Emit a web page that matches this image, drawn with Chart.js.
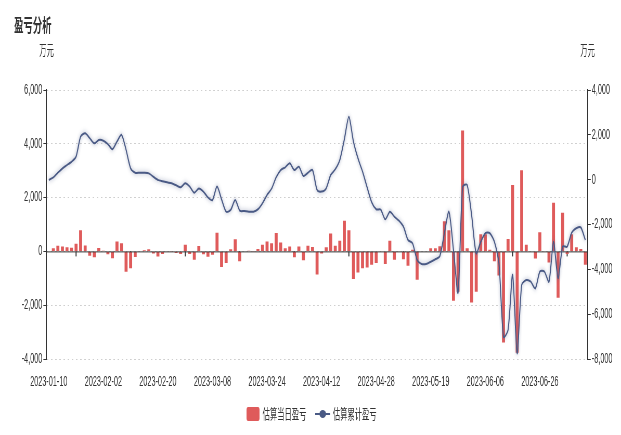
<!DOCTYPE html>
<html>
<head>
<meta charset="utf-8">
<script src="https://cdn.jsdelivr.net/npm/chart.js@4.4.0/dist/chart.umd.min.js"></script>
<style>
  html, body { margin: 0; padding: 0; background: #fff; overflow: hidden; }
</style>
</head>
<body>
<!-- drawn wide, shown squeezed like the source picture -->
<canvas id="chart" width="1194" height="435" style="display:block;width:621px;height:435px"></canvas>
<script>
// trading days
const dates = [
  '2023-01-10','2023-01-11','2023-01-12','2023-01-13','2023-01-16','2023-01-17','2023-01-18','2023-01-19','2023-01-20',
  '2023-01-30','2023-01-31','2023-02-01','2023-02-02','2023-02-03','2023-02-06','2023-02-07','2023-02-08','2023-02-09',
  '2023-02-10','2023-02-13','2023-02-14','2023-02-15','2023-02-16','2023-02-17','2023-02-20','2023-02-21','2023-02-22',
  '2023-02-23','2023-02-24','2023-02-27','2023-02-28','2023-03-01','2023-03-02','2023-03-03','2023-03-06','2023-03-07',
  '2023-03-08','2023-03-09','2023-03-10','2023-03-13','2023-03-14','2023-03-15','2023-03-16','2023-03-17','2023-03-20',
  '2023-03-21','2023-03-22','2023-03-23','2023-03-24','2023-03-27','2023-03-28','2023-03-29','2023-03-30','2023-03-31',
  '2023-04-03','2023-04-04','2023-04-06','2023-04-07','2023-04-10','2023-04-11','2023-04-12','2023-04-13','2023-04-14',
  '2023-04-17','2023-04-18','2023-04-19','2023-04-20','2023-04-21','2023-04-24','2023-04-25','2023-04-26','2023-04-27',
  '2023-04-28','2023-05-04','2023-05-05','2023-05-08','2023-05-09','2023-05-10','2023-05-11','2023-05-12','2023-05-15',
  '2023-05-16','2023-05-17','2023-05-18','2023-05-19','2023-05-22','2023-05-23','2023-05-24','2023-05-25','2023-05-26',
  '2023-05-29','2023-05-30','2023-05-31','2023-06-01','2023-06-02','2023-06-05','2023-06-06','2023-06-07','2023-06-08',
  '2023-06-09','2023-06-12','2023-06-13','2023-06-14','2023-06-15','2023-06-16','2023-06-19','2023-06-20','2023-06-21',
  '2023-06-26','2023-06-27','2023-06-28','2023-06-29','2023-06-30','2023-07-03','2023-07-04','2023-07-05','2023-07-06',
  '2023-07-07','2023-07-10'
];

// 估算当日盈亏 (万元, left axis)
const dailyPnl = [
  0, 120, 210, 185, 150, 140, 280, 790, 220, -160,
  -220, 130, 20, -110, -255, 365, 305, -760, -625, -205,
  0, 40, 80, -80, -185, -100, -20, -10, -60, -100,
  250, -100, -310, 200, -110, -200, -120, 690, -580, -430,
  80, 450, -370, 0, 20, -10, 90, 250, 370, 300,
  680, 330, 120, 180, -220, 180, -330, 210, 160, -860,
  -75, 150, 670, 210, 400, 1140, 790, -1030, -780, -630,
  -600, -500, -430, 0, -470, 400, -310, 0, -290, -530,
  60, -1050, 0, 0, 120, 120, 190, 1120, 790, -1830,
  -1500, 4490, 120, -1900, -1500, 640, 640, 60, -370, -900,
  -3390, 460, 2470, -3770, 3020, 250, 0, -260, 710, 0,
  -410, 1810, -1720, 1440, -100, 640, 150, 90, -500
];

// 估算累计盈亏 (万元, right axis)
const totalPnl = [
  -10, 100, 310, 500, 650, 800, 1030, 1920, 2070, 1850,
  1620, 1770, 1740, 1590, 1360, 1700, 2000, 1330, 500, 310,
  310, 310, 280, 130, -10, -70, -120, -160, -250, -340,
  -160, -310, -580, -390, -530, -790, -910, -310, -880, -1430,
  -1350, -910, -1380, -1400, -1430, -1430, -1320, -1050, -680, -400,
  100, 430, 550, 730, 430, 580, 165, 310, 430, -460,
  -530, -390, 210, 460, 880, 1800, 2810, 1700, 950, 360,
  -340, -1000, -1320, -1340, -1770, -1430, -1650, -1830, -2100, -2690,
  -2840, -3580, -3760, -3760, -3660, -3550, -3410, -2390, -1430, -3140,
  -5040, -340, -240, -1600, -3290, -2770, -2390, -2390, -2770, -3730,
  -7010, -6710, -4250, -7750, -4700, -4480, -4550, -4850, -4100, -4100,
  -4550, -2770, -4400, -2990, -2990, -2370, -2170, -2130, -2690
];

const seriesNames = ['估算当日盈亏', '估算累计盈亏'];

const FONT = "'Liberation Sans', 'Noto Sans CJK SC', sans-serif";
const barColor = '#df5b5b';
const lineColor = '#4a5a85';
const axisColor = '#333';
const textColor = '#333';

// zero line, small x ticks, line glow, title, units and legend
const decor = {
  id: 'decor',
  beforeDatasetDraw(chart, args) {
    const ctx = chart.ctx;
    if (args.index === 1) {
      const xs = chart.scales.x;
      const y0 = chart.scales.y.getPixelForValue(0);
      ctx.save();
      ctx.strokeStyle = axisColor;
      ctx.lineWidth = 2;
      for (let i = 6; i < dates.length; i += 12) {
        const px = xs.getPixelForValue(i);
        ctx.beginPath();
        ctx.moveTo(px, y0);
        ctx.lineTo(px, y0 + 5);
        ctx.stroke();
      }
      ctx.restore();
    }
    if (args.index === 0) {
      ctx.save();
      ctx.shadowColor = 'rgba(74, 90, 133, 0.55)';
      ctx.shadowBlur = 5;
    }
  },
  afterDatasetDraw(chart, args) {
    const ctx = chart.ctx;
    if (args.index === 1) {
      const a = chart.chartArea;
      const y0 = chart.scales.y.getPixelForValue(0);
      ctx.save();
      ctx.strokeStyle = axisColor;
      ctx.lineWidth = 1;
      ctx.beginPath();
      ctx.moveTo(a.left, y0 + 0.5);
      ctx.lineTo(a.right, y0 + 0.5);
      ctx.stroke();
      ctx.restore();
    }
    if (args.index === 0) ctx.restore();
  },
  afterDraw(chart) {
    const ctx = chart.ctx;
    const a = chart.chartArea;
    ctx.save();
    ctx.fillStyle = textColor;
    ctx.textBaseline = 'middle';

    ctx.font = "bold 18px 'Noto Sans CJK SC', sans-serif";
    ctx.textAlign = 'left';
    ctx.fillText('盈亏分析', 27, 25);

    ctx.font = "14px 'Noto Sans CJK SC', sans-serif";
    ctx.textAlign = 'center';
    ctx.fillText('万元', a.left, 50);
    ctx.fillText('万元', a.right, 50);

    // legend
    const ly = 414;
    ctx.fillStyle = barColor;
    ctx.beginPath();
    ctx.roundRect(474, ly - 7, 25, 14, 3);
    ctx.fill();
    ctx.fillStyle = textColor;
    ctx.textAlign = 'left';
    ctx.fillText(seriesNames[0], 505, ly);

    ctx.strokeStyle = lineColor;
    ctx.lineWidth = 2;
    ctx.beginPath();
    ctx.moveTo(606, ly);
    ctx.lineTo(635, ly);
    ctx.stroke();
    ctx.fillStyle = lineColor;
    ctx.beginPath();
    ctx.ellipse(620.5, ly, 6.4, 4, 0, 0, Math.PI * 2);
    ctx.fill();
    ctx.fillStyle = textColor;
    ctx.fillText(seriesNames[1], 640, ly);
    ctx.restore();
  }
};

new Chart(document.getElementById('chart'), {
  type: 'bar',
  data: {
    labels: dates,
    datasets: [
      {
        type: 'line',
        label: seriesNames[1],
        data: totalPnl,
        yAxisID: 'y1',
        borderColor: lineColor,
        borderWidth: 2,
        pointRadius: 0,
        tension: 0.25,
        fill: false
      },
      {
        type: 'bar',
        label: seriesNames[0],
        data: dailyPnl,
        yAxisID: 'y',
        backgroundColor: barColor,
        categoryPercentage: 1,
        barPercentage: 0.66
      }
    ]
  },
  options: {
    responsive: false,
    animation: false,
    layout: { padding: { top: 90, bottom: 46, left: 0, right: 0 } },
    plugins: {
      legend: { display: false },
      tooltip: { enabled: false }
    },
    scales: {
      x: {
        type: 'category',
        offset: true,
        grid: { display: false, drawTicks: false },
        border: { display: false },
        ticks: {
          autoSkip: false,
          maxRotation: 0,
          minRotation: 0,
          padding: 15,
          color: textColor,
          font: { family: FONT, size: 14 },
          callback: function (v, i) { return i % 12 === 0 ? this.getLabelForValue(v) : null; }
        },
        afterFit: s => { s.height = 30; }
      },
      y: {
        position: 'left',
        min: -4000,
        max: 6000,
        ticks: { stepSize: 2000, padding: 2, color: textColor, font: { family: FONT, size: 14 } },
        grid: { color: '#cfcfcf', lineWidth: 1, tickColor: axisColor, tickLength: 6 },
        border: { display: true, color: axisColor, width: 2, dash: [3, 5] },
        afterFit: s => { s.width = 89.4; }
      },
      y1: {
        position: 'right',
        min: -8000,
        max: 4000,
        ticks: { stepSize: 2000, padding: 2, color: textColor, font: { family: FONT, size: 14 } },
        grid: { drawOnChartArea: false, tickColor: axisColor, tickLength: 6 },
        border: { display: true, color: axisColor, width: 2 },
        afterFit: s => { s.width = 64.2; }
      }
    }
  },
  plugins: [decor]
});
</script>
</body>
</html>
